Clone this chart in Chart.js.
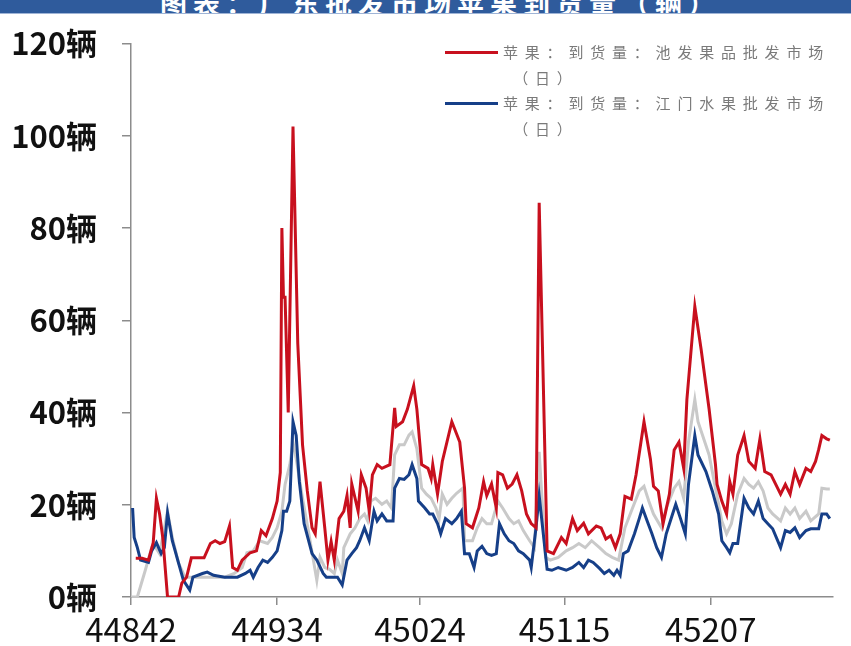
<!DOCTYPE html>
<html lang="zh">
<head>
<meta charset="UTF-8">
<title>苹果到货量</title>
<script src="https://cdn.jsdelivr.net/npm/chart.js"></script>
<style>
  body { margin: 0; background: #fff; }
  #wrap { position: relative; width: 851px; height: 646px; overflow: hidden; }
  #titleBar {
    position: absolute; left: 0; top: 0; width: 851px; height: 13px;
    background: #2f5b9c; overflow: hidden; border-bottom: 1px solid #9fb4d6;
  }
  #titleBar span {
    position: absolute; left: 160px; top: -17px; color: #fff;
    font: bold 27px "Noto Sans CJK SC", sans-serif; letter-spacing: 6px; white-space: nowrap;
  }
  .lg-line { position: absolute; left: 445px; width: 53px; height: 3px; }
  .lg-text {
    position: absolute; left: 503px; color: #7a7a7a;
    font: 15px "Noto Sans CJK SC", sans-serif; letter-spacing: 6.8px; line-height: 26px; white-space: nowrap;
  }
</style>
</head>
<body>
<div id="wrap">
  <canvas id="chart" width="851" height="646"></canvas>
  <div id="titleBar"><span>图表：广东批发市场苹果到货量（辆）</span></div>
  <div class="lg-line" style="top:51px;background:#c8101e"></div>
  <div class="lg-text" style="top:39px">苹果：到货量：池发果品批发市场<br>&nbsp;（日）</div>
  <div class="lg-line" style="top:102px;background:#163f88"></div>
  <div class="lg-text" style="top:90px">苹果：到货量：江门水果批发市场<br>&nbsp;（日）</div>
</div>
<script>
const xTicks = [44842, 44934, 45024, 45115, 45207];
const yTicks = [0, 20, 40, 60, 80, 100, 120];

const redDates = [44845,44849,44853,44856,44858,44860,44862,44865,44872,44874,44877,44880,44888,44892,44895,44898,44901,44904,44906,44909,44912,44917,44921,44924,44927,44931,44934,44936,44937,44938,44939,44941,44944,44947,44950,44953,44956,44958,44961,44964,44966,44968,44970,44973,44976,44978,44980,44981,44985,44987,44990,44992,44994,44997,45000,45005,45008,45009,45013,45016,45020,45022,45025,45029,45031,45032,45035,45038,45044,45049,45052,45053,45057,45061,45064,45066,45069,45072,45073,45076,45079,45082,45085,45088,45091,45094,45097,45099,45104,45108,45113,45116,45120,45123,45127,45130,45135,45138,45141,45144,45147,45150,45153,45157,45160,45165,45169,45171,45174,45177,45181,45184,45187,45190,45192,45197,45201,45206,45210,45211,45214,45217,45219,45221,45224,45228,45231,45235,45238,45241,45245,45251,45254,45257,45260,45263,45267,45270,45273,45275,45277,45280,45282];
const redValues = [8.4,8.4,8,11.8,21.4,18,12.9,0,0,3,4.3,8.5,8.5,11.6,12.2,11.6,12,15.4,6.4,5.8,8,9.6,10,14.4,13.3,17,20.8,27,80,65,65,40,102,55,33,23,15,13.7,25,15,8,12,8,17,18.6,22,15,24.5,18.6,26.5,23.6,18.6,26.5,28.7,27.9,28.7,41,37,38,40.7,45.8,40.7,28.7,27.9,25.7,28.7,22.3,29.4,38,33.6,23.6,15.9,15,19.3,25,22,24.5,19.3,27,26.5,23.6,24.5,26.5,23,18,15.9,15,85.5,10,9.4,12.9,11.6,17,14.4,16,13.7,15.4,15,12.6,13.3,10.7,13.7,21.8,21.2,26.5,38,30,24,23,15.9,22.3,31.9,33.6,27.9,42.8,63,53.6,40.7,28.7,24.4,20.8,18,25,22.3,30.8,35,29.4,27.9,34.3,27.2,26.5,22.3,24.4,22.3,27.2,24.4,27.9,27.2,29.4,32,35,34.3,34];

const blueDates = [44843,44844,44846,44848,44853,44855,44858,44861,44863,44865,44868,44872,44875,44879,44881,44887,44890,44894,44901,44909,44914,44917,44919,44922,44925,44928,44931,44934,44937,44938,44940,44942,44944,44946,44948,44951,44956,44959,44963,44965,44969,44972,44975,44978,44981,44984,44986,44989,44992,44995,44997,45000,45003,45007,45008,45011,45014,45017,45019,45022,45023,45027,45030,45032,45035,45037,45040,45044,45047,45050,45052,45055,45058,45060,45063,45066,45069,45072,45074,45077,45080,45083,45086,45089,45093,45094,45097,45099,45104,45107,45111,45116,45120,45124,45127,45130,45133,45137,45140,45143,45146,45148,45150,45152,45155,45159,45162,45164,45167,45170,45173,45176,45179,45183,45185,45188,45191,45193,45197,45199,45204,45208,45212,45214,45217,45219,45221,45224,45228,45231,45234,45237,45240,45243,45246,45251,45254,45257,45260,45263,45267,45270,45275,45277,45280,45282];
const blueValues = [19.3,12.9,10.7,8,7.5,10,11.8,9.4,10.7,18.2,12.2,7.3,3.6,1.5,4.3,5.1,5.4,4.7,4.3,4.3,5.1,5.8,4.3,6.4,8,7.5,8.6,10,14.4,18.6,18.6,20.8,38,35,25,15.9,9.4,8,5.1,4.3,4.3,4.3,2.6,8,9.4,10.7,12.2,15,12.2,18.6,16.5,18,16.5,16.5,23.6,25.7,25.5,26.5,28.7,25.7,20.8,19.3,18,18,15.9,13.7,17,15.9,17,18.6,9.4,9.4,6.4,10,11,9.4,9,9.4,15.9,13.7,12.2,11.6,10,9.4,8,6.4,15,22,6,5.8,6.4,5.8,6.4,7.5,6.4,8,7.5,6.2,5.1,5.8,4.7,5.8,4.7,9.4,10,13.7,17,19.3,16.5,13.7,10.7,8.6,13.7,18,20.1,17,13.7,24.4,35,30.8,27.2,23,18,12.2,10.7,9.6,11.6,11.6,21.4,19.3,18,20.8,17,15.9,14.8,10.7,14.4,14,15,12.9,14.4,14.8,14.8,18,18,17];

const grayDates = [44842,44846,44851,44855,44857,44860,44865,44868,44872,44876,44880,44887,44901,44907,44912,44915,44919,44923,44928,44931,44934,44937,44939,44942,44944,44946,44950,44954,44959,44961,44964,44967,44970,44972,44975,44976,44980,44983,44986,44989,44991,44993,44996,45000,45003,45006,45008,45011,45014,45017,45019,45022,45025,45028,45031,45034,45036,45038,45041,45044,45047,45051,45052,45057,45060,45063,45066,45069,45073,45076,45080,45083,45086,45089,45093,45096,45099,45103,45106,45111,45116,45120,45124,45128,45132,45137,45141,45145,45149,45153,45157,45162,45165,45168,45171,45176,45179,45184,45187,45190,45193,45197,45199,45206,45210,45214,45217,45220,45224,45228,45231,45234,45237,45240,45243,45246,45251,45254,45257,45260,45263,45267,45270,45275,45277,45280,45282];
const grayValues = [0,0,5.8,10.7,11,9.4,18.6,12.9,7.3,4.3,4.3,4.3,4.3,5.1,6.4,9.6,10,12.2,11.6,12.9,15,18.6,24.4,28.7,33.6,30,21.4,13.7,3.6,8.6,6.4,6,5.1,8,5.1,10.7,13.7,15,17,18,16.5,20.8,21.4,20.1,20.8,19.3,30.8,33,33,35.1,35.8,32.1,23.6,22.3,21.4,19.3,17,22.3,20.1,21.4,22.5,23.6,12.2,12.2,15,17,15.9,15.9,20.8,19.3,17,15.9,16.5,14.4,12.2,10.7,31.5,8.6,8,8.6,10,10.7,11.6,10.7,12.2,10.7,9.4,8.6,8,15,18.6,23,24,20.8,18,15,19.3,23.6,25,21.4,33.6,42.8,38,30.8,23.6,16.5,13.7,15.9,22.3,25.7,24.4,23.6,25,23,19.3,18,16.5,19.3,18,19.3,17,18.6,16.5,18,23.6,23.4,23.4];

function pts(dates, values) {
  return dates.map((d, i) => ({ x: d, y: values[i] }));
}

const tickFont = { family: "'Liberation Sans Narrow', 'Noto Sans CJK SC', sans-serif", size: 33 };

new Chart(document.getElementById("chart"), {
  type: "line",
  data: {
    datasets: [
      { label: "苹果：到货量：池发果品批发市场（日）", data: pts(redDates, redValues), borderColor: "#c8101e" },
      { label: "苹果：到货量：江门水果批发市场（日）", data: pts(blueDates, blueValues), borderColor: "#163f88" },
      { label: "其他", data: pts(grayDates, grayValues), borderColor: "#c9c9c9" },
    ],
  },
  options: {
    responsive: false,
    animation: false,
    devicePixelRatio: 1,
    layout: { padding: { top: 37, right: 18, left: 0, bottom: 0 } },
    elements: {
      point: { radius: 0 },
      line: { borderWidth: 3, tension: 0, borderJoinStyle: "miter" },
    },
    plugins: { legend: { display: false }, tooltip: { enabled: false } },
    scales: {
      x: {
        type: "linear",
        min: 44842,
        max: 45284,
        afterBuildTicks: (s) => { s.ticks = xTicks.map((v) => ({ value: v })); },
        afterFit: (s) => { s.height = 49; },
        ticks: { color: "#111", font: tickFont, padding: 5, maxRotation: 0, callback: (v) => String(v) },
        grid: { display: true, drawOnChartArea: false, drawTicks: true, tickLength: 8, color: "#8c8c8c", lineWidth: 1.5 },
        border: { display: true, color: "#8c8c8c", width: 1.5 },
      },
      y: {
        min: 0,
        max: 120,
        afterBuildTicks: (s) => { s.ticks = yTicks.map((v) => ({ value: v })); },
        afterFit: (s) => { s.width = 131; },
        ticks: { color: "#111", font: { ...tickFont, size: 31, weight: "bold" }, padding: 25, callback: (v) => v + "辆" },
        grid: { display: true, drawOnChartArea: false, drawTicks: true, tickLength: 9, color: "#8c8c8c", lineWidth: 1.5 },
        border: { display: true, color: "#8c8c8c", width: 1.5 },
      },
    },
  },
});
</script>
</body>
</html>
